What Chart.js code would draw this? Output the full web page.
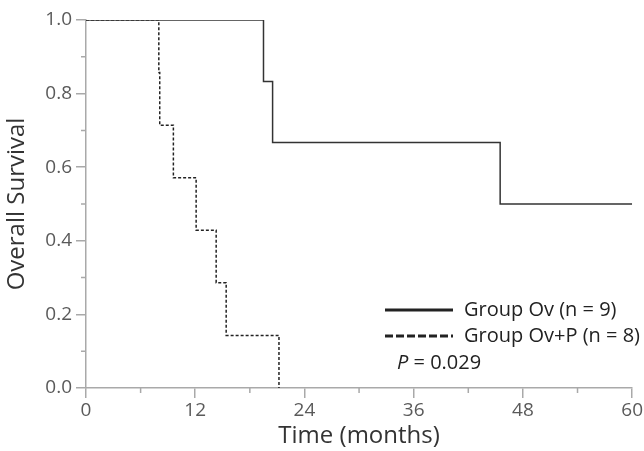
<!DOCTYPE html>
<html>
<head>
<meta charset="utf-8">
<script src="https://cdn.jsdelivr.net/npm/chart.js@4"></script>
<style>
  html, body { margin: 0; padding: 0; background: #fff; }
  #wrap { width: 644px; height: 451px; }
</style>
</head>
<body>
<div id="wrap"><canvas id="myChart" width="644" height="451"></canvas></div>
<script>
// survival curves (time in months, survival fraction)
const tiemposOv  = [0, 19.5, 20.5, 45.5, 60];
const survOv     = [1, 0.833, 0.667, 0.5, 0.5];
const tiemposOvP = [0, 8.0, 8.1, 9.6, 12.1, 14.3, 15.4, 21.2];
const survOvP    = [1, 0.857, 0.714, 0.571, 0.429, 0.286, 0.143, 0];

const etiquetas = ['Group Ov (n = 9)', 'Group Ov+P (n = 8)'];
const textoP = '0.029';

const xTicks = [0, 12, 24, 36, 48, 60];
const yTicks = [0.0, 0.2, 0.4, 0.6, 0.8, 1.0];

const toPoints = (xs, ys) => xs.map((x, i) => ({ x: x, y: ys[i] }));

const colorEje = '#a9a9a9';
const colorTexto = '#5a5a5a';
const fuente = "'Open Sans', sans-serif";

const esMayorX = (v) => xTicks.includes(v);
const esMayorY = (v) => yTicks.some(t => Math.abs(t - v) < 1e-6);

// ticks menores (mas cortos) y leyenda con valor P
const decoracionPlugin = {
  id: 'decoracion',
  afterDraw(chart) {
    const ctx = chart.ctx;
    const xs = chart.scales.x, ys = chart.scales.y;
    ctx.save();
    ctx.strokeStyle = colorEje;
    ctx.lineWidth = 1.5;
    ctx.beginPath();
    xs.ticks.forEach(t => {
      if (esMayorX(t.value)) return;
      const px = xs.getPixelForValue(t.value);
      ctx.moveTo(px, xs.top);
      ctx.lineTo(px, xs.top + 5);
    });
    ys.ticks.forEach(t => {
      if (esMayorY(t.value)) return;
      const py = ys.getPixelForValue(t.value);
      ctx.moveTo(ys.right, py);
      ctx.lineTo(ys.right - 5, py);
    });
    ctx.stroke();

    const dsets = chart.data.datasets;
    ctx.font = "20px " + fuente;
    ctx.textBaseline = 'middle';
    const filas = [310, 336];
    dsets.forEach((ds, i) => {
      ctx.beginPath();
      ctx.strokeStyle = '#222';
      ctx.lineWidth = 3;
      ctx.setLineDash(i === 1 ? [8, 3] : []);
      ctx.moveTo(385, filas[i]);
      ctx.lineTo(453, filas[i]);
      ctx.stroke();
      ctx.setLineDash([]);
      ctx.fillStyle = '#222';
      ctx.fillText(ds.label, 464, filas[i]);
    });
    ctx.font = "italic 20px " + fuente;
    ctx.fillText('P', 397, 363);
    const w = ctx.measureText('P').width;
    ctx.font = "20px " + fuente;
    ctx.fillText(' = ' + textoP, 397 + w, 363);
    ctx.restore();
  }
};

const data = {
  datasets: [{
    label: etiquetas[0],
    data: toPoints(tiemposOv, survOv),
    borderColor: '#333',
    borderWidth: 1.5,
    stepped: 'before',
    pointRadius: 0,
    fill: false
  },
  {
    label: etiquetas[1],
    data: toPoints(tiemposOvP, survOvP),
    borderColor: '#222',
    borderWidth: 1.5,
    borderDash: [3, 2],
    stepped: 'before',
    pointRadius: 0,
    fill: false
  }]
};

const config = {
  type: 'line',
  data,
  plugins: [decoracionPlugin],
  options: {
    responsive: false,
    animation: false,
    layout: { padding: { left: 0, right: 11, top: 20, bottom: 0 } },
    plugins: {
      legend: { display: false },
      tooltip: { enabled: false }
    },
    scales: {
      x: {
        type: 'linear',
        min: 0,
        max: 60,
        afterFit: (s) => { s.height = 63; },
        ticks: {
          stepSize: 6,
          autoSkip: false,
          maxRotation: 0,
          color: colorTexto,
          font: { family: fuente, size: 19 },
          padding: 1,
          callback: (v) => esMayorX(v) ? String(v) : ''
        },
        grid: {
          drawOnChartArea: false,
          tickLength: 10,
          lineWidth: 1.5,
          tickColor: (c) => esMayorX(c.tick.value) ? colorEje : 'rgba(0,0,0,0)'
        },
        border: { color: colorEje, width: 1.5 },
        title: {
          display: true,
          text: 'Time (months)',
          color: '#333',
          font: { family: fuente, size: 24 },
          padding: { top: 0, bottom: 0 }
        }
      },
      y: {
        type: 'linear',
        min: 0,
        max: 1,
        afterFit: (s) => { s.width = 86; },
        ticks: {
          stepSize: 0.1,
          autoSkip: false,
          color: colorTexto,
          font: { family: fuente, size: 19 },
          padding: 4,
          callback: (v) => esMayorY(v) ? (Math.round(v * 10) / 10).toFixed(1) : ''
        },
        grid: {
          drawOnChartArea: false,
          tickLength: 10,
          lineWidth: 1.5,
          tickColor: (c) => esMayorY(c.tick.value) ? colorEje : 'rgba(0,0,0,0)'
        },
        border: { color: colorEje, width: 1.5 },
        title: {
          display: true,
          text: 'Overall Survival',
          color: '#333',
          font: { family: fuente, size: 24 },
          padding: { top: 3, bottom: 0 }
        }
      }
    }
  }
};

const myChart = new Chart(document.getElementById('myChart'), config);
</script>
</body>
</html>
